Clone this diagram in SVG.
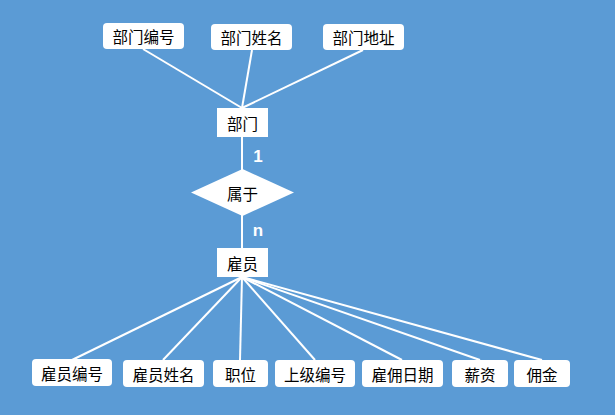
<svg xmlns="http://www.w3.org/2000/svg" width="615" height="415" viewBox="0 0 615 415">
  <style>
    .bg { fill: #5b9bd5; }
    .attr { fill: #ffffff; }
    .ent { fill: #ffffff; }
    .rel { fill: #ffffff; }
    .lbl { font-family: "Noto Sans CJK SC", "Noto Sans", sans-serif; font-size: 15.5px; fill: #000000; text-anchor: middle; dominant-baseline: central; }
    .card { font-family: "Liberation Sans", "DejaVu Sans", sans-serif; font-size: 17px; font-weight: bold; fill: #ffffff; text-anchor: middle; dominant-baseline: central; }
    #connectors line { stroke: #ffffff; stroke-width: 2; }
  </style>
  <rect class="bg" x="0" y="0" width="615" height="415"/>

  <g id="connectors">
    <!-- department attributes -->
    <line x1="143" y1="49" x2="242" y2="108"/>
    <line x1="252" y1="50" x2="242" y2="108"/>
    <line x1="363" y1="50" x2="242" y2="108"/>
    <!-- department - belongs - employee -->
    <line x1="242" y1="137" x2="242" y2="170"/>
    <line x1="242" y1="215" x2="242" y2="248"/>
    <!-- employee attributes -->
    <line x1="242" y1="277" x2="72" y2="360"/>
    <line x1="242" y1="277" x2="163" y2="360"/>
    <line x1="242" y1="277" x2="240" y2="360"/>
    <line x1="242" y1="277" x2="315" y2="360"/>
    <line x1="242" y1="277" x2="402" y2="360"/>
    <line x1="242" y1="277" x2="480" y2="360"/>
    <line x1="242" y1="277" x2="542" y2="360"/>
  </g>

  <text class="card" x="258" y="156">1</text>
  <text class="card" x="258" y="230">n</text>

  <g id="dept-no"><rect class="attr" x="103" y="23" width="81" height="26" rx="4"/><text class="lbl" x="143.5" y="36">部门编号</text></g>
  <g id="dept-name"><rect class="attr" x="211" y="24" width="81" height="26" rx="4"/><text class="lbl" x="251.5" y="37">部门姓名</text></g>
  <g id="dept-addr"><rect class="attr" x="323" y="24" width="81" height="26" rx="4"/><text class="lbl" x="363.5" y="37">部门地址</text></g>

  <g id="dept"><rect class="ent" x="217" y="108" width="51" height="29"/><text class="lbl" x="242.5" y="122.5">部门</text></g>

  <g id="belongs"><polygon class="rel" points="242.5,169 294,192.5 242.5,216 191,192.5"/><text class="lbl" x="242.5" y="192.5">属于</text></g>

  <g id="employee"><rect class="ent" x="217" y="248" width="51" height="29"/><text class="lbl" x="242.5" y="262.5">雇员</text></g>

  <g id="emp-no"><rect class="attr" x="32" y="359" width="80" height="27" rx="4"/><text class="lbl" x="72" y="372.5">雇员编号</text></g>
  <g id="emp-name"><rect class="attr" x="123" y="360" width="81" height="27" rx="4"/><text class="lbl" x="163.5" y="373.5">雇员姓名</text></g>
  <g id="position"><rect class="attr" x="213" y="360" width="55" height="27" rx="4"/><text class="lbl" x="240.5" y="373.5">职位</text></g>
  <g id="manager-no"><rect class="attr" x="275" y="360" width="80" height="27" rx="4"/><text class="lbl" x="315" y="373.5">上级编号</text></g>
  <g id="hire-date"><rect class="attr" x="362" y="360" width="81" height="27" rx="4"/><text class="lbl" x="402.5" y="373.5">雇佣日期</text></g>
  <g id="salary"><rect class="attr" x="452" y="360" width="56" height="27" rx="4"/><text class="lbl" x="480" y="373.5">薪资</text></g>
  <g id="commission"><rect class="attr" x="514" y="360" width="56" height="27" rx="4"/><text class="lbl" x="542" y="373.5">佣金</text></g>
</svg>
